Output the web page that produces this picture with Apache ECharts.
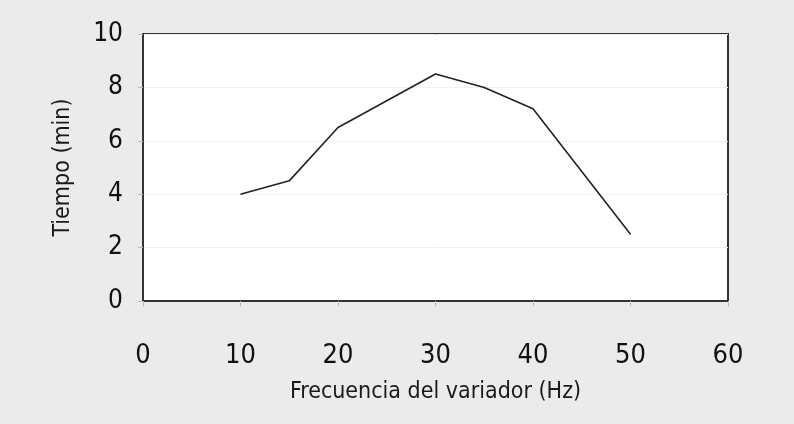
<!DOCTYPE html>
<html>
<head>
<meta charset="utf-8">
<script src="https://cdn.jsdelivr.net/npm/echarts@6/dist/echarts.min.js"></script>
<style>
  html, body { margin: 0; padding: 0; background: #ebebeb; }
  #chart { width: 794px; height: 424px; }
</style>
</head>
<body>
<div id="chart"></div>
<script>
  // Frecuencia (Hz) vs tiempo (min)
  const frecuencia = [10, 15, 20, 30, 35, 40, 50];
  const tiempo = [4.0, 4.5, 6.5, 8.5, 8.0, 7.2, 2.5];
  const xTicks = [0, 10, 20, 30, 40, 50, 60];
  const yTicks = [0, 2, 4, 6, 8, 10];

  const font = '"Liberation Sans Narrow", "DejaVu Sans Condensed", sans-serif';
  const chart = echarts.init(document.getElementById('chart'));

  const points = [];
  for (let i = 0; i < frecuencia.length; i++) {
    points.push([frecuencia[i], tiempo[i]]);
  }

  chart.setOption({
    backgroundColor: '#ebebeb',
    animation: false,
    grid: {
      left: 143, right: 66, top: 34, bottom: 123,
      show: true,
      backgroundColor: '#ffffff',
      borderColor: '#333333',
      borderWidth: 2
    },
    xAxis: {
      type: 'value',
      min: xTicks[0],
      max: xTicks[xTicks.length - 1],
      interval: 10,
      name: 'Frecuencia del variador (Hz)',
      nameLocation: 'middle',
      nameGap: 80,
      nameTextStyle: { fontFamily: font, fontSize: 23, color: '#1a1a1a' },
      axisLine: { show: true, lineStyle: { color: '#333', width: 2 } },
      axisTick: { show: true, length: 5, lineStyle: { color: '#bbb' } },
      axisLabel: { margin: 41, fontFamily: font, fontSize: 27, color: '#111' },
      splitLine: { show: false }
    },
    yAxis: {
      type: 'value',
      min: yTicks[0],
      max: yTicks[yTicks.length - 1],
      interval: 2,
      name: 'Tiempo (min)',
      nameLocation: 'middle',
      nameGap: 68,
      nameTextStyle: { fontFamily: font, fontSize: 23, color: '#1a1a1a' },
      axisLine: { show: true, lineStyle: { color: '#333', width: 2 } },
      axisTick: { show: true, length: 5, lineStyle: { color: '#bbb' } },
      axisLabel: { margin: 20, fontFamily: font, fontSize: 26, color: '#111' },
      splitLine: { show: true, lineStyle: { color: '#f0f0f0', width: 1 } }
    },
    series: [{
      type: 'line',
      data: points,
      showSymbol: false,
      lineStyle: { color: '#222', width: 1.6 }
    }]
  });
</script>
</body>
</html>
